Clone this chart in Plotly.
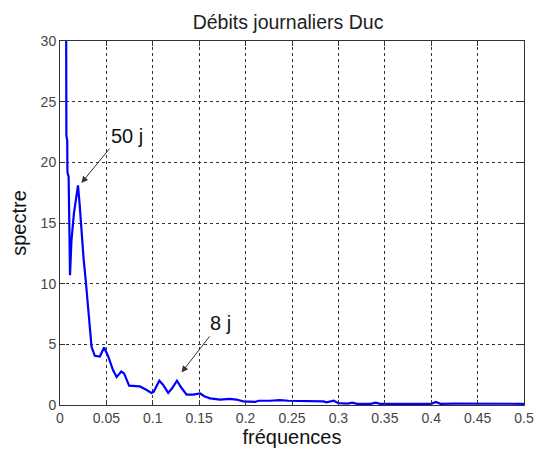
import plotly.graph_objects as go

# Spectrum data
freq = [0.0062, 0.0069, 0.0078, 0.0080, 0.0093, 0.0095, 0.0103, 0.0108, 0.0115,
        0.0123, 0.0150, 0.0175, 0.0194, 0.0212, 0.0231, 0.0255, 0.0278, 0.0300,
        0.0320, 0.0340, 0.0375, 0.0430, 0.0475, 0.0520, 0.0570, 0.0610, 0.0660,
        0.0690, 0.0745, 0.0860, 0.0920, 0.0987, 0.1010, 0.1070, 0.1110, 0.1166,
        0.1210, 0.1260, 0.1310, 0.1365, 0.1436, 0.1510, 0.1560, 0.1617, 0.1724,
        0.1830, 0.1900, 0.1976, 0.2100, 0.2140, 0.2260, 0.2370, 0.2460, 0.2590,
        0.2840, 0.2870, 0.2950, 0.3000, 0.3100, 0.3150, 0.3200, 0.3350, 0.3400,
        0.3450, 0.4000, 0.4050, 0.4100, 0.4250, 0.5000]
spectre = [45.0, 22.2, 21.8, 19.2, 18.8, 16.3, 13.5, 10.7, 13.2,
           13.5, 15.8, 17.3, 18.1, 16.5, 14.3, 12.0, 10.2, 8.0,
           6.0, 4.8, 4.05, 4.0, 4.74, 4.0, 2.9, 2.3, 2.76,
           2.6, 1.59, 1.53, 1.3, 1.0, 1.1, 2.0, 1.67, 1.0,
           1.4, 2.0, 1.4, 0.85, 0.85, 0.95, 0.7, 0.55, 0.45,
           0.5, 0.45, 0.3, 0.25, 0.35, 0.35, 0.4, 0.35, 0.35,
           0.3, 0.22, 0.35, 0.15, 0.12, 0.2, 0.1, 0.1, 0.2,
           0.1, 0.1, 0.25, 0.1, 0.12, 0.1]

x_ticks = [0, 0.05, 0.1, 0.15, 0.2, 0.25, 0.3, 0.35, 0.4, 0.45, 0.5]
x_tick_labels = ["0", "0.05", "0.1", "0.15", "0.2", "0.25", "0.3", "0.35", "0.4", "0.45", "0.5"]
y_ticks = [0, 5, 10, 15, 20, 25, 30]

title_text = "Débits journaliers Duc"
x_label = "fréquences"
y_label = "spectre"

# annotations: label, label position, arrow head, arrow tail
ann_labels = ["50 j", "8 j"]
ann_text_pos = [(0.072, 22.15), (0.1725, 6.77)]
ann_heads = [(0.0231, 18.3), (0.131, 2.68)]
ann_tails = [(0.0547, 21.25), (0.1624, 5.78)]

FONT = "Liberation Sans, Arial, sans-serif"

fig = go.Figure()
fig.add_trace(go.Scatter(x=freq, y=spectre, mode="lines",
                         line=dict(color="#0000ff", width=2.2),
                         showlegend=False, cliponaxis=True))

annotations = []
for lab, tp, hd, tl in zip(ann_labels, ann_text_pos, ann_heads, ann_tails):
    annotations.append(dict(x=hd[0], y=hd[1], ax=tl[0], ay=tl[1],
                            xref="x", yref="y", axref="x", ayref="y",
                            text="", showarrow=True, arrowhead=2, arrowsize=1.3,
                            arrowwidth=1, arrowcolor="#333333"))
    annotations.append(dict(x=tp[0], y=tp[1], xref="x", yref="y", text=lab,
                            showarrow=False,
                            font=dict(family=FONT, size=20, color="#111111")))

axis_common = dict(showline=True, linecolor="#333333", linewidth=1, mirror="ticks",
                   ticks="inside", ticklen=5, tickcolor="#333333",
                   showgrid=True, gridcolor="#333333", gridwidth=1,
                   griddash="3px,3px", zeroline=False, automargin=False,
                   tickfont=dict(family=FONT, size=14, color="#444444"))

# The page body has an 8px margin, so the figure is 8px smaller than the window
fig.update_layout(
    width=541, height=442,
    margin=dict(l=52, r=25, t=33, b=45, autoexpand=False),
    paper_bgcolor="white", plot_bgcolor="white",
    title=dict(text=title_text, x=0.5176, xanchor="center", y=0.968, yanchor="middle",
               automargin=False,
               font=dict(family=FONT, size=19.5, color="#222222")),
    xaxis=dict(range=[0, 0.5], tickvals=x_ticks, ticktext=x_tick_labels,
               title=dict(text=x_label, standoff=0,
                          font=dict(family=FONT, size=20, color="#111111")),
               **axis_common),
    yaxis=dict(range=[0, 30], tickvals=y_ticks,
               title=dict(text=y_label, standoff=8,
                          font=dict(family=FONT, size=20, color="#111111")),
               **axis_common),
    annotations=annotations,
)

fig.write_html("out.html")
